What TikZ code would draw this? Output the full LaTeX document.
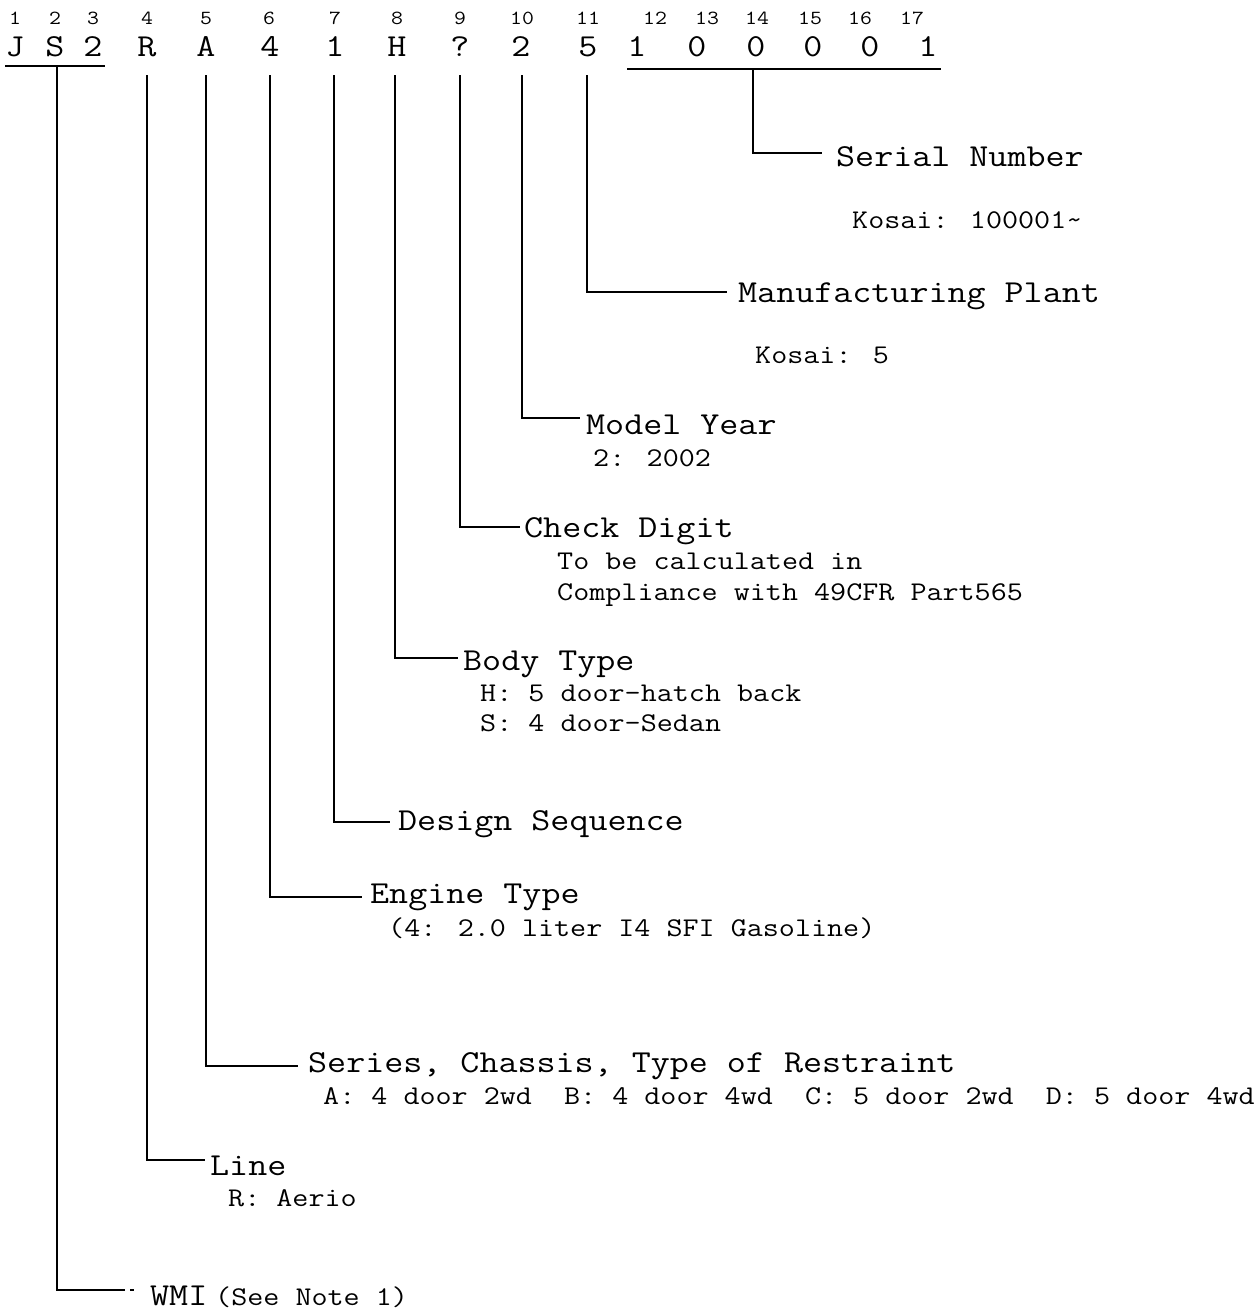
\documentclass[tikz,border=0pt]{standalone}
\usepackage{fontspec}
\setmainfont[FakeStretch=1.155]{Latin Modern Mono}
\begin{document}
\begin{tikzpicture}[x=1pt,y=-1pt,
  big/.style={font=\fontsize{32}{36}\selectfont, inner sep=0pt, anchor=base west},
  sub/.style={font=\fontsize{27}{30}\selectfont, inner sep=0pt, anchor=base west},
  idx/.style={font=\fontsize{20}{24}\selectfont, inner sep=0pt, anchor=base},
  ch/.style={font=\fontsize{32}{36}\selectfont, inner sep=0pt, anchor=base},
  conn/.style={line width=2pt, line cap=butt}]
\useasboundingbox (0,0) rectangle (1257,1312);
% index numbers
\foreach \n/\x in {1/15,2/55,3/93,4/147,5/206,6/269,7/335,8/397,9/460,10/522,11/588,12/655,13/707,14/757,15/810,16/860,17/912}
  \node[idx] (i\n) at (\x,24) {\n};
% VIN characters
\foreach \n/\x/\c in {1/15/J,2/55/S,3/93/2,4/147/R,5/206/A,6/270/4,7/335/1,8/397/H,9/460/?,10/521/2,11/588/5,12/637/1,13/697/0,14/756/0,15/813/0,16/870/0,17/928/1}
  \node[ch] (c\n) at (\x,56) {\c};
% underlines
\coordinate (ua) at (5,66);  \coordinate (ub) at (105,66);
\coordinate (uc) at (627,69); \coordinate (ud) at (941,69);
\draw[conn] (ua) -- (ub);
\draw[conn] (uc) -- (ud);
% labels
\node[big] (lSer) at (836,166) {Serial Number};
\node[sub] (sSer) at (852,228) {Kosai: 100001\textasciitilde};
\node[big] (lMan) at (738,302) {Manufacturing Plant};
\node[sub] (sMan) at (755,363) {Kosai: 5};
\node[big] (lMod) at (586,434) {Model Year};
\node[sub] (sMod) at (593,466) {2: 2002};
\node[big] (lChk) at (524,537) {Check Digit};
\node[sub] (sChk1) at (557,569) {To be calculated in};
\node[sub] (sChk2) at (557,600) {Compliance with 49CFR Part565};
\node[big] (lBod) at (463,670) {Body Type};
\node[sub] (sBod1) at (480,701) {H: 5 door-hatch back};
\node[sub] (sBod2) at (480,731) {S: 4 door-Sedan};
\node[big] (lDes) at (398,830) {Design Sequence};
\node[big] (lEng) at (370,903) {Engine Type};
\node[sub] (sEng) at (388,936) {(4: 2.0 liter I4 SFI Gasoline)};
\node[big] (lSrs) at (308,1072) {Series, Chassis, Type of Restraint};
\node[sub] (sSrs) at (323,1104) {A: 4 door 2wd\ \ B: 4 door 4wd\ \ C: 5 door 2wd\ \ D: 5 door 4wd};
\node[big] (lLin) at (210,1175) {Line};
\node[sub] (sLin) at (228,1206) {R: Aerio};
\node[big] (lWMI) at (150,1305) {WMI};
\node[sub] (sWMI) at (215,1305) {(See Note 1)};
% connector start and end points
\coordinate (sS) at (57,66);    \coordinate (eS) at (125,1290);
\coordinate (dS1) at (130,1290); \coordinate (dS2) at (134,1290);
\coordinate (sR) at (147,75);   \coordinate (eR) at (205,1160);
\coordinate (sA) at (206,75);   \coordinate (eA) at (298,1066);
\coordinate (s4) at (270,75);   \coordinate (e4) at (362,897);
\coordinate (s1) at (334,75);   \coordinate (e1) at (390,822);
\coordinate (sH) at (395,75);   \coordinate (eH) at (458,658);
\coordinate (sQ) at (460,75);   \coordinate (eQ) at (520,527);
\coordinate (s2) at (522,75);   \coordinate (e2) at (580,418);
\coordinate (s5) at (587,75);   \coordinate (e5) at (727,292);
\coordinate (sN) at (753,69);   \coordinate (eN) at (822,153);
\draw[conn] (sS) |- (eS);
\draw[conn] (dS1) -- (dS2);
\draw[conn] (sR) |- (eR);
\draw[conn] (sA) |- (eA);
\draw[conn] (s4) |- (e4);
\draw[conn] (s1) |- (e1);
\draw[conn] (sH) |- (eH);
\draw[conn] (sQ) |- (eQ);
\draw[conn] (s2) |- (e2);
\draw[conn] (s5) |- (e5);
\draw[conn] (sN) |- (eN);
\end{tikzpicture}
\end{document}
